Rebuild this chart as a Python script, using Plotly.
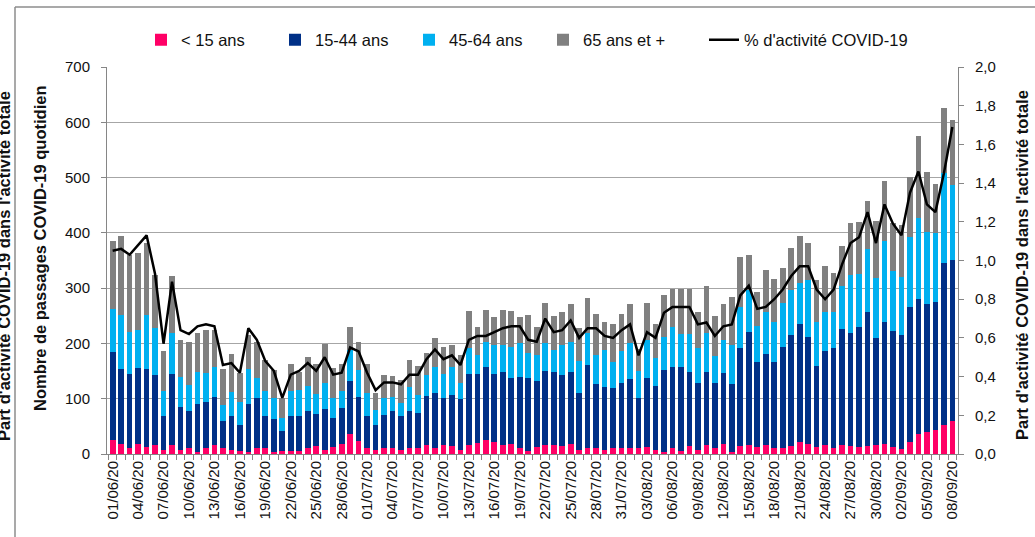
import pandas as pd
import plotly.graph_objects as go

PINK = "#FF0066"
NAVY = "#003087"
CYAN = "#00B0F0"
GREY = "#808080"
FONT = "Liberation Sans, Arial, sans-serif"

dates = pd.date_range("2020-06-01", "2020-09-08", freq="D")

age_0_14 = [26, 18, 11, 18, 12, 16, 8, 16, 7, 10, 4, 11, 17, 10, 8, 5, 3, 10, 10, 4,
            6, 5, 6, 11, 14, 8, 12, 19, 36, 23, 10, 8, 10, 10, 8, 10, 10, 16, 11, 17,
            14, 8, 17, 20, 26, 22, 16, 19, 11, 6, 13, 16, 16, 14, 18, 8, 11, 10, 8, 10,
            10, 11, 11, 12, 7, 4, 11, 6, 15, 8, 17, 10, 18, 4, 14, 16, 13, 16, 10, 11,
            14, 22, 18, 13, 16, 10, 17, 14, 13, 15, 17, 19, 12, 9, 21, 37, 40, 43, 52, 59]
age_15_44 = [159, 135, 133, 138, 141, 127, 60, 128, 78, 68, 87, 83, 87, 50, 61, 47, 87, 91, 59, 59,
             35, 63, 62, 66, 58, 74, 54, 65, 96, 81, 58, 44, 61, 68, 61, 67, 65, 89, 100, 84,
             93, 91, 128, 125, 132, 122, 133, 118, 128, 131, 119, 135, 133, 129, 131, 103, 150, 117, 114, 109,
             118, 125, 90, 125, 116, 148, 146, 151, 133, 120, 131, 119, 128, 122, 177, 204, 154, 164, 157, 183,
             201, 213, 194, 147, 171, 182, 209, 204, 217, 241, 192, 220, 210, 207, 244, 244, 232, 232, 293, 292]
age_45_64 = [77, 98, 77, 68, 98, 85, 46, 75, 54, 46, 57, 52, 54, 28, 44, 42, 63, 37, 45, 38,
             25, 46, 47, 46, 36, 47, 36, 30, 56, 48, 42, 28, 30, 25, 23, 45, 32, 38, 46, 43,
             50, 29, 47, 34, 45, 53, 48, 56, 61, 45, 47, 50, 40, 54, 54, 57, 58, 52, 67, 48,
             58, 65, 49, 70, 51, 60, 72, 60, 69, 63, 70, 48, 60, 71, 75, 76, 65, 76, 72, 80,
             81, 75, 102, 78, 69, 64, 78, 106, 95, 114, 110, 146, 109, 104, 128, 146, 130, 125, 164, 135]
age_65_plus = [123, 143, 139, 139, 130, 96, 73, 103, 68, 79, 71, 78, 66, 66, 67, 52, 62, 65, 56, 51,
               35, 49, 33, 53, 55, 70, 53, 48, 42, 51, 53, 30, 42, 38, 41, 48, 52, 40, 53, 49,
               41, 51, 66, 50, 57, 50, 63, 66, 48, 69, 51, 73, 61, 59, 69, 60, 64, 74, 49, 68,
               68, 70, 40, 67, 61, 75, 69, 81, 81, 66, 86, 73, 66, 87, 91, 64, 61, 77, 78, 63,
               77, 84, 68, 77, 84, 72, 72, 93, 95, 88, 102, 108, 86, 95, 108, 149, 108, 88, 116, 118]
pct_covid = [1.05, 1.06, 1.03, 1.08, 1.13, 0.93, 0.57, 0.89, 0.64, 0.62, 0.66, 0.67, 0.66, 0.46, 0.47,
             0.42, 0.65, 0.59, 0.48, 0.43, 0.29, 0.41, 0.43, 0.47, 0.43, 0.50, 0.41, 0.42, 0.55, 0.53,
             0.42, 0.33, 0.37, 0.37, 0.36, 0.41, 0.41, 0.49, 0.54, 0.49, 0.51, 0.46, 0.59, 0.61, 0.61,
             0.63, 0.65, 0.66, 0.66, 0.59, 0.58, 0.70, 0.63, 0.64, 0.69, 0.60, 0.65, 0.65, 0.61, 0.60,
             0.64, 0.67, 0.51, 0.63, 0.60, 0.73, 0.76, 0.76, 0.76, 0.67, 0.68, 0.61, 0.66, 0.67, 0.82,
             0.87, 0.75, 0.76, 0.80, 0.85, 0.92, 0.97, 0.97, 0.85, 0.80, 0.85, 0.98, 1.09, 1.12, 1.25,
             1.09, 1.29, 1.19, 1.13, 1.35, 1.46, 1.29, 1.25, 1.45, 1.69]

# plot area in pixels (used to place the free-floating titles)
L, R, T, B = 107, 958, 67, 454
W, H = 1035, 537
pw, ph = R - L, B - T


def px_x(x):
    return (x - L) / pw


def px_y(y):
    return (B - y) / ph


fig = go.Figure()
for name, vals, col in [("< 15 ans", age_0_14, PINK),
                        ("15-44 ans", age_15_44, NAVY),
                        ("45-64 ans", age_45_64, CYAN),
                        ("65 ans et +", age_65_plus, GREY)]:
    fig.add_trace(go.Bar(x=dates, y=vals, name=name, marker_color=col,
                         marker_line_width=0, legend="legend"))

fig.add_trace(go.Scatter(x=dates, y=pct_covid, name="% d'activité COVID-19",
                         mode="lines", yaxis="y2", legend="legend2",
                         line=dict(color="black", width=2.5)))

axis_grey = "#868686"
legend_common = dict(orientation="h", xanchor="left", y=px_y(40), yanchor="middle",
                     font=dict(size=16.5), itemwidth=30, traceorder="normal")
fig.update_layout(
    width=W, height=H,
    barmode="stack", bargap=0.33,
    plot_bgcolor="white", paper_bgcolor="white",
    separators=", ",
    font=dict(family=FONT, size=15, color="#111"),
    margin=dict(l=L, r=W - R, t=T, b=H - B, autoexpand=False),
    showlegend=True,
    legend=dict(x=px_x(141), entrywidth=89, entrywidthmode="pixels", **legend_common),
    legend2=dict(x=px_x(704), **legend_common),
    xaxis=dict(
        type="date",
        range=[dates[0] - pd.Timedelta(hours=16), dates[-1] + pd.Timedelta(hours=16)],
        tick0="2020-06-01", dtick=3 * 86400000, tickformat="%d/%m/%y",
        tickangle=-90, ticks="", showgrid=False,
        showline=True, linecolor=axis_grey, linewidth=1,
        minor=dict(ticks="outside", ticklen=5, tickcolor=axis_grey,
                   tick0="2020-05-31 12:00", dtick=86400000, showgrid=False),
        tickfont=dict(size=15),
    ),
    yaxis=dict(
        range=[0, 700], dtick=100, showgrid=True, gridcolor="#a6a6a6", gridwidth=1,
        ticks="outside", ticklen=5, tickcolor=axis_grey, ticklabelstandoff=8,
        showline=True, linecolor=axis_grey, linewidth=1, zeroline=False,
        tickfont=dict(size=15),
    ),
    yaxis2=dict(
        range=[0, 2.0], dtick=0.2, tickformat=".1f", overlaying="y", side="right",
        showgrid=False, ticks="outside", ticklen=5, tickcolor=axis_grey,
        ticklabelstandoff=8, showline=True, linecolor=axis_grey, linewidth=1,
        zeroline=False, tickfont=dict(size=15),
    ),
)

title_left = "Nombre de passages COVID-19 quotidien"
title_right = "Part d'activité COVID-19 dans l'activité totale"
for text, x, y in [(title_left, 40, 248), (title_right, 1022, 265), (title_right, 4, 266)]:
    fig.add_annotation(text=f"<b>{text}</b>", x=px_x(x), y=px_y(y), xref="paper", yref="paper",
                       textangle=-90, showarrow=False, font=dict(size=16.5, color="#111"),
                       xanchor="center", yanchor="middle")

# frame of the original screenshot
frame = dict(color="#8c8c8c", width=1.5)
fig.add_shape(type="line", xref="paper", yref="paper", x0=px_x(15), x1=px_x(15),
              y0=px_y(H + 5), y1=px_y(7), line=frame)
fig.add_shape(type="line", xref="paper", yref="paper", x0=px_x(15), x1=px_x(W + 5),
              y0=px_y(7), y1=px_y(7), line=frame)

fig.write_html("out.html", config={"displayModeBar": False},
               post_script="document.body.style.margin='0';")
